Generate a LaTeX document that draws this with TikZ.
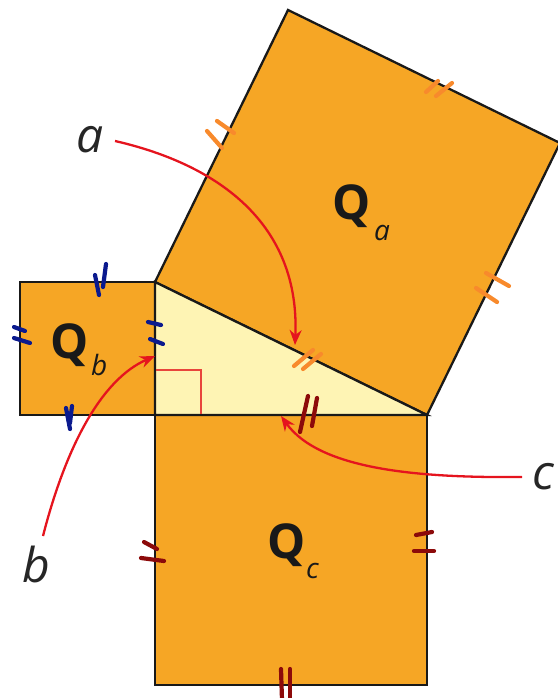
\documentclass[tikz,border=0pt]{standalone}
\usepackage{fontspec}
\setmainfont{Open Sans}
\usetikzlibrary{arrows.meta}
\definecolor{sqfill}{RGB}{246,166,37}
\definecolor{trifill}{RGB}{254,244,180}
\definecolor{tickor}{RGB}{248,138,44}
\definecolor{tickbl}{RGB}{11,26,142}
\definecolor{tickrd}{RGB}{140,10,10}
\definecolor{arrred}{RGB}{229,20,30}
\definecolor{rightred}{RGB}{232,69,60}
\tikzset{
  sq/.style={fill=sqfill, draw=black!90, line width=2.3pt, line join=miter},
  tri/.style={fill=trifill, draw=black!90, line width=2.3pt, line join=miter},
  tk/.style={line width=4.2pt, line cap=round},
  arr/.style={draw=arrred, line width=2.3pt, -{Stealth[length=15pt,width=12pt]}},
  qlab/.style={inner sep=0pt, anchor=base west, font=\fontsize{48}{52}\selectfont\bfseries, text=black!90},
  qsub/.style={inner sep=0pt, anchor=base west, font=\fontsize{28}{30}\selectfont\itshape, text=black!90},
  sidelab/.style={inner sep=0pt, anchor=base west, font=\fontsize{48}{52}\selectfont\itshape, text=black!85},
}
\begin{document}
\begin{tikzpicture}[x=1pt,y=-1pt]
\useasboundingbox (0,0) rectangle (557,698);
% vertices
\coordinate (A) at (155,282);
\coordinate (B) at (155,415);
\coordinate (C) at (427,415);
\coordinate (D) at (288,10);
\coordinate (E) at (560,143);
% squares
\draw[sq] (A) -- (D) -- (E) -- (C) -- cycle;
\draw[sq] (20,282) rectangle (B);
\draw[sq] (B) rectangle (427,685);
\draw[tri] (A) -- (B) -- (C) -- cycle;
% right angle
\draw[rightred, line width=1.2pt] (156,370) -- (201,370) -- (201,414);
% ticks Q_a (orange)
\begin{scope}[tickor]
\draw[tk] (207,131) -- (222,148);
\draw[tk] (217,121) -- (234,133);
\draw[tk] (426,92) -- (438,81);
\draw[tk] (436,96) -- (452,83);
\draw[tk] (486,273) -- (509,286);
\draw[tk] (476,288) -- (497,302);
\draw[tk] (294,366) -- (313,350);
\draw[tk] (303,369) -- (321,354);
\end{scope}
% ticks Q_b (blue)
\begin{scope}[tickbl]
\draw[tk] (95,275) -- (99,295);
\draw[tk] (106,264) -- (103,287);
\draw[tk] (14,327) -- (25,331);
\draw[tk] (14,338) -- (30,343);
\draw[tk] (148,322) -- (161,325);
\draw[tk] (150,339) -- (163,344);
\draw[tk] (66,408) -- (70,429);
\draw[tk] (72,406) -- (70,423);
\end{scope}
% ticks Q_c (dark red)
\begin{scope}[tickrd]
\draw[tk] (300,432) -- (308,396);
\draw[tk] (312,426) -- (317,398);
\draw[tk] (144,542) -- (157,549);
\draw[tk] (141,558) -- (164,561);
\draw[tk] (416,535) -- (432,532);
\draw[tk] (414,551) -- (434,551);
\draw[tk] (281,669) -- (282,700);
\draw[tk] (290,669) -- (290,700);
\end{scope}
% labels inside squares
\node[qlab] (qa) at (332,219) {Q};
\node[qsub] (qas) at (374,240) {a};
\node[qlab] (qb) at (50,358) {Q};
\node[qsub] (qbs) at (91,375) {b};
\node[qlab] (qc) at (267,558) {Q};
\node[qsub] (qcs) at (306,578) {c};
% side labels
\node[sidelab] (la) at (76,152) {a};
\node[sidelab] (lb) at (22,582) {b};
\node[sidelab] (lc) at (532,489) {c};
% arrows
\coordinate (sa) at (115,141);
\coordinate (ta) at (295,345);
\coordinate (sb) at (43,536);
\coordinate (tb) at (155,356);
\coordinate (sc) at (522,477);
\coordinate (tc) at (281,416);
\draw[arr] (sa) .. controls (220,165) and (300,225) .. (ta);
\draw[arr] (sb) .. controls (65,450) and (100,380) .. (tb);
\draw[arr] (sc) .. controls (420,478) and (320,470) .. (tc);
\end{tikzpicture}
\end{document}
